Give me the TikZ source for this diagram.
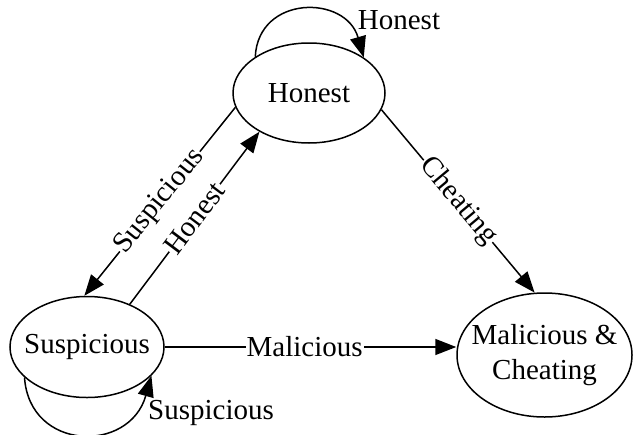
\documentclass[tikz,border=0pt]{standalone}
\usepackage{fontspec}
\setmainfont{Liberation Serif}
\usetikzlibrary{arrows.meta,shapes.geometric}
\begin{document}
\begin{tikzpicture}[x=1pt,y=-1pt,
  state/.style={ellipse,draw,line width=1.5pt,inner sep=0pt,
    font=\fontsize{29}{35}\selectfont},
  trans/.style={line width=1.5pt,-{Triangle[length=21pt,width=16pt]}},
  lbl/.style={font=\fontsize{29}{35}\selectfont,inner sep=1pt},
  onl/.style={lbl,fill=white,sloped,pos=0.5}]
\useasboundingbox (0,0) rectangle (636,434);

% zero-width text boxes so the ellipse size is set by the minimum sizes
\node[state,minimum width=152pt,minimum height=100pt] (H) at (309,93)
  {\makebox[0pt]{Honest}};
\node[state,minimum width=154pt,minimum height=101pt] (S) at (87,347)
  {\makebox[0pt]{Suspicious}};
\node[state,minimum width=175pt,minimum height=124pt] (M) at (544.5,355)
  {\makebox[0pt]{\begin{tabular}{@{}c@{}}Malicious \&\\Cheating\end{tabular}}};

% self-loops
\draw[trans] (H.146) .. controls +(3,-62) and +(-18,-63) .. (H.33);
\node[lbl] (lh) at (399,20) {Honest};
\draw[trans] (S.206) .. controls +(5,74) and +(-22,78) .. (S.336);
\node[lbl] (ls) at (211,413) {Suspicious};

% transitions between states
\draw[trans] (H.191) -- node[onl] {Suspicious} (S.93);
\draw[trans] (S.45) -- node[onl] {Honest} (H.218);
\draw[trans] (H.347) -- node[onl] {Cheating} (M.99.5);
\draw[trans] (S.east) -- node[onl,pos=0.48] {Malicious} (S.east -| M.west);
\end{tikzpicture}
\end{document}
